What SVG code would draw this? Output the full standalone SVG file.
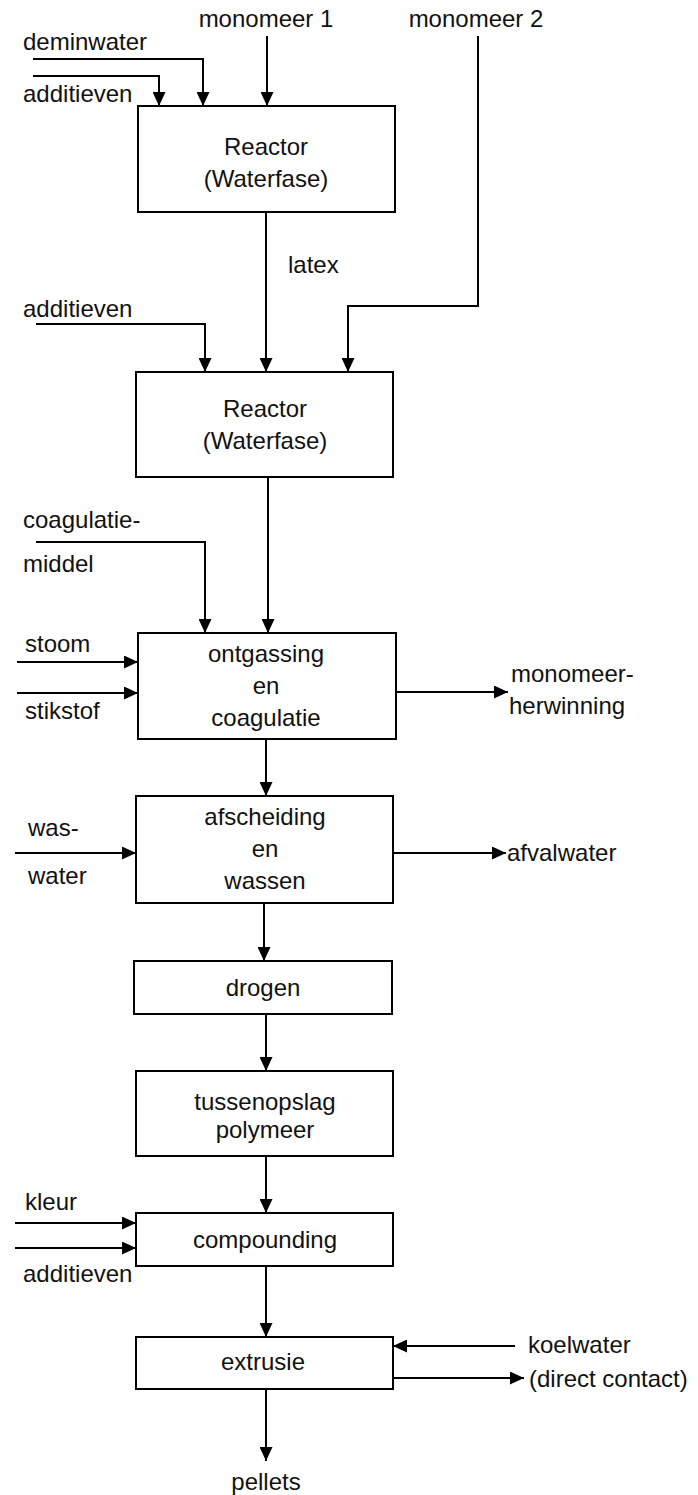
<svg xmlns="http://www.w3.org/2000/svg" width="698" height="1495" viewBox="0 0 698 1495">
  <defs>
    <marker id="arrow" viewBox="0 0 14 13" refX="14" refY="6.5" markerWidth="14" markerHeight="13" markerUnits="userSpaceOnUse" orient="auto">
      <path d="M0,0 L14,6.5 L0,13 z" fill="#000"/>
    </marker>
  </defs>
  <style>
    text { font-family: "Liberation Sans", Arial, sans-serif; font-size: 24px; fill: #111; }
    .c { text-anchor: middle; }
    .box { fill: #fff; stroke: #000; stroke-width: 2; }
    .flow { fill: none; stroke: #000; stroke-width: 2; marker-end: url(#arrow); }
  </style>
  <rect width="698" height="1495" fill="#fff"/>

  <!-- connectors -->
  <g id="connectors">
    <path class="flow" d="M267,36 V106"/>
    <path class="flow" d="M33,59 H203 V106"/>
    <path class="flow" d="M33,76 H159 V106"/>
    <path class="flow" d="M478,36 V306 H348 V372"/>
    <path class="flow" d="M266,212 V372"/>
    <path class="flow" d="M36,324 H205 V372"/>
    <path class="flow" d="M268,477 V633"/>
    <path class="flow" d="M36,542 H205 V633"/>
    <path class="flow" d="M17,662 H138"/>
    <path class="flow" d="M17,693 H138"/>
    <path class="flow" d="M396,692 H508"/>
    <path class="flow" d="M266,739 V796"/>
    <path class="flow" d="M15,853 H136"/>
    <path class="flow" d="M393,853 H506"/>
    <path class="flow" d="M264,903 V961"/>
    <path class="flow" d="M266,1014 V1071"/>
    <path class="flow" d="M266,1156 V1213"/>
    <path class="flow" d="M15,1223 H136"/>
    <path class="flow" d="M15,1248 H136"/>
    <path class="flow" d="M266,1266 V1337"/>
    <path class="flow" d="M515,1346 H393"/>
    <path class="flow" d="M393,1378 H524"/>
    <path class="flow" d="M266,1389 V1461"/>
  </g>

  <!-- stream labels -->
  <g id="labels">
    <text class="c" x="266" y="27">monomeer 1</text>
    <text class="c" x="476" y="27">monomeer 2</text>
    <text x="23" y="50">deminwater</text>
    <text x="23" y="102">additieven</text>
    <text x="288" y="273">latex</text>
    <text x="23" y="317">additieven</text>
    <text x="23" y="528">coagulatie-</text>
    <text x="23" y="572">middel</text>
    <text x="25" y="652">stoom</text>
    <text x="25" y="719">stikstof</text>
    <text x="511" y="682">monomeer-</text>
    <text x="509" y="714">herwinning</text>
    <text x="28" y="836">was-</text>
    <text x="28" y="884">water</text>
    <text x="507" y="861">afvalwater</text>
    <text x="25" y="1210">kleur</text>
    <text x="23" y="1282">additieven</text>
    <text x="528" y="1353">koelwater</text>
    <text x="529" y="1387">(direct contact)</text>
    <text class="c" x="266" y="1490">pellets</text>
  </g>

  <!-- process units -->
  <g id="reactor1">
    <rect class="box" x="138" y="106" width="257" height="106"/>
    <text class="c" x="266" y="155">Reactor</text>
    <text class="c" x="266" y="187">(Waterfase)</text>
  </g>
  <g id="reactor2">
    <rect class="box" x="136" y="372" width="257" height="105"/>
    <text class="c" x="265" y="417">Reactor</text>
    <text class="c" x="265" y="449">(Waterfase)</text>
  </g>
  <g id="ontgassing">
    <rect class="box" x="138" y="633" width="258" height="106"/>
    <text class="c" x="266" y="662">ontgassing</text>
    <text class="c" x="266" y="694">en</text>
    <text class="c" x="266" y="726">coagulatie</text>
  </g>
  <g id="afscheiding">
    <rect class="box" x="136" y="796" width="257" height="107"/>
    <text class="c" x="265" y="825">afscheiding</text>
    <text class="c" x="265" y="857">en</text>
    <text class="c" x="265" y="889">wassen</text>
  </g>
  <g id="drogen">
    <rect class="box" x="134" y="961" width="258" height="53"/>
    <text class="c" x="263" y="996">drogen</text>
  </g>
  <g id="tussenopslag">
    <rect class="box" x="136" y="1071" width="257" height="85"/>
    <text class="c" x="265" y="1110">tussenopslag</text>
    <text class="c" x="265" y="1138">polymeer</text>
  </g>
  <g id="compounding">
    <rect class="box" x="136" y="1213" width="257" height="53"/>
    <text class="c" x="265" y="1248">compounding</text>
  </g>
  <g id="extrusie">
    <rect class="box" x="136" y="1337" width="257" height="52"/>
    <text class="c" x="263" y="1370">extrusie</text>
  </g>
</svg>
